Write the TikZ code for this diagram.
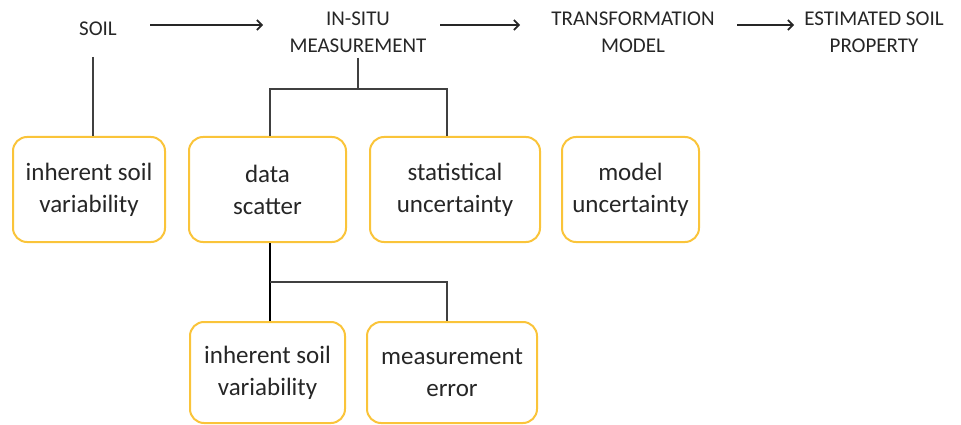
\documentclass[tikz,border=0pt]{standalone}
\usepackage{fontspec}
\setmainfont{Carlito}
\usetikzlibrary{arrows.meta}
\definecolor{boxyellow}{HTML}{FAC43A}
\definecolor{linegray}{HTML}{404040}
\begin{document}
\begin{tikzpicture}[x=1pt,y=-1pt,
  toplabel/.style={align=center,font=\fontsize{21}{27}\selectfont,text=black!85,inner sep=0pt},
  ubox/.style={draw=boxyellow,line width=2pt,rounded corners=14pt,align=center,
    font=\fontsize{25}{32}\selectfont,text=black!85,inner sep=0pt},
  conn/.style={draw=linegray,line width=1.8pt},
  flow/.style={draw=black!85,line width=1.4pt,-{Straight Barb[length=5pt,width=10pt,line width=1.6pt]}}]
\useasboundingbox (0,0) rectangle (961,425);
% top row
\node[toplabel] (soil) at (98,29) {SOIL};
\node[toplabel] (insitu) at (358,32) {IN-SITU\\MEASUREMENT};
\node[toplabel] (trans) at (633,32) {TRANSFORMATION\\MODEL};
\node[toplabel] (est) at (874,32) {ESTIMATED SOIL\\PROPERTY};
\coordinate (a1s) at (150,25); \coordinate (a1e) at (263,25);
\coordinate (a2s) at (440,25); \coordinate (a2e) at (520,25);
\coordinate (a3s) at (737,25); \coordinate (a3e) at (794,25);
\draw[flow] (a1s) -- (a1e);
\draw[flow] (a2s) -- (a2e);
\draw[flow] (a3s) -- (a3e);
% boxes row 1
\node[ubox,minimum width=152pt,minimum height=105pt] (b1) at (89,189.5) {inherent soil\\variability};
\node[ubox,minimum width=157pt,minimum height=105pt] (b2) at (267.5,189.5) {data\\scatter};
\node[ubox,minimum width=170pt,minimum height=105pt] (b3) at (455,189.5) {statistical\\uncertainty};
\node[ubox,minimum width=137pt,minimum height=105pt] (b4) at (630.5,189.5) {model\\uncertainty};
% boxes row 2
\node[ubox,minimum width=155pt,minimum height=101pt] (b5) at (267.5,372.5) {inherent soil\\variability};
\node[ubox,minimum width=170pt,minimum height=101pt] (b6) at (452,372.5) {measurement\\error};
% connectors
\coordinate (s1) at (93,57);
\draw[conn] (s1) -- (s1 |- b1.north);
\coordinate (m1) at (358,58);
\coordinate (m2) at (358,89);
\coordinate (m3) at (270,89);
\coordinate (m4) at (447,89);
\draw[conn] (m1) -- (m2);
\draw[conn] (m3 |- b2.north) -- (m3) -- (m4) -- (m4 |- b3.north);
\coordinate (d1) at (270,282);
\coordinate (d2) at (447,282);
\draw[conn,draw=black] (d1 |- b2.south) -- (d1 |- b5.north);
\draw[conn] (d1) -- (d2) -- (d2 |- b6.north);
\end{tikzpicture}
\end{document}
